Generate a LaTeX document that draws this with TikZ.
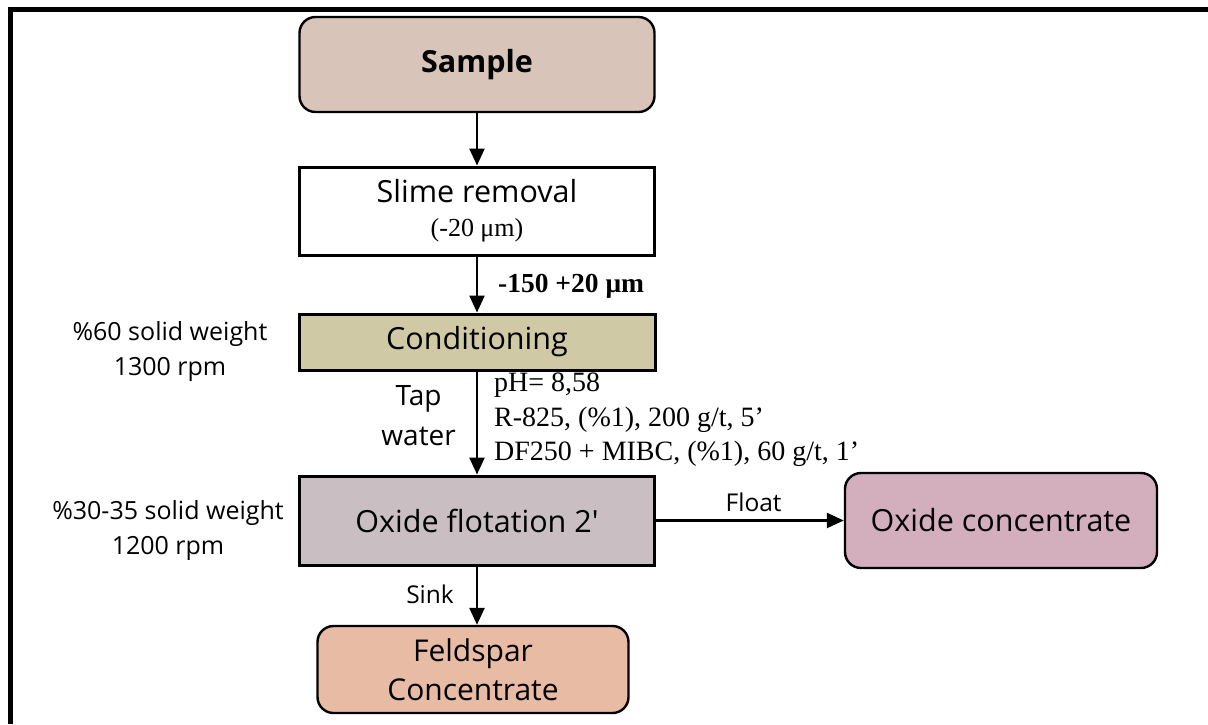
\documentclass[tikz,border=0pt]{standalone}
\usepackage{fontspec}
\setmainfont{Open Sans}
\newfontfamily\notefont{Liberation Serif}
\usetikzlibrary{arrows.meta,positioning}

\definecolor{samplefill}{HTML}{D8C4B9}
\definecolor{condfill}{HTML}{CFC9A6}
\definecolor{flotfill}{HTML}{C9BFC3}
\definecolor{concfill}{HTML}{D3AEBD}
\definecolor{feldfill}{HTML}{E8BBA5}

\begin{document}
\begin{tikzpicture}[
  x=1pt, y=-1pt,
  box/.style={rectangle, draw, line width=3pt, inner sep=0pt, align=center, font=\fontsize{30.5}{34}\selectfont},
  rbox/.style={box, rounded corners=16pt, line width=2.4pt},
  arrow/.style={-{Triangle[length=17pt,width=15pt]}, line width=2.4pt},
  side/.style={inner sep=0pt, align=center, font=\fontsize{25}{35}\selectfont},
  note/.style={inner sep=0pt, align=left, font=\notefont\fontsize{28}{34.5}\selectfont},
  tag/.style={inner sep=0pt, font=\fontsize{24.5}{28}\selectfont}
]
  \useasboundingbox (0,0) rectangle (1208,724);

  % Frame
  \draw[line width=5pt] (1208,9.5) -| (10.5,724);

  % Main column
  \node[rbox, fill=samplefill, minimum width=355pt, minimum height=95pt,
        font=\bfseries\fontsize{30.5}{34}\selectfont] (sample) at (477,64.5) {Sample};
  \node[box, fill=white, minimum width=355pt, minimum height=88pt] (slime) at (477,211)
        {Slime removal\\[0pt]{\notefont\fontsize{26}{30}\selectfont (-20 μm)}};
  \node[box, fill=condfill, minimum width=356pt, minimum height=56pt] (cond) at (477,342) {Conditioning};
  \node[box, fill=flotfill, minimum width=355pt, minimum height=89pt] (flot) at (477,520.5)
        {Oxide flotation 2\textquotesingle};

  % Products
  \node[rbox, fill=concfill, minimum width=312pt, minimum height=95pt] (conc) at (1001,520.5) {Oxide concentrate};
  \node[rbox, fill=feldfill, minimum width=311pt, minimum height=87pt,
        font=\fontsize{30}{39}\selectfont] (feld) at (473,669.5) {Feldspar\\Concentrate};

  % Operating conditions
  \node[side] (condlbl) at (170,351) {\%60 solid weight\\1300 rpm};
  \node[side] (flotlbl) at (168,530) {\%30-35 solid weight\\1200 rpm};

  % Arrows
  \draw[arrow] (sample) -- (slime);
  \draw[arrow] (slime) -- node[pos=0.53, right=20pt, note, font=\notefont\bfseries\fontsize{27.5}{30}\selectfont] (size) {-150 +20 μm} (cond);
  \draw[arrow] (cond) -- node[pos=0.43, left=20pt, side, font=\fontsize{28}{40}\selectfont] (tap) {Tap\\water}
        node[pos=0.47, right=16pt, note] (reag) {pH= 8,58\\R-825, (\%1), 200 g/t, 5’\\DF250 + MIBC, (\%1), 60 g/t, 1’} (flot);
  \draw[arrow] (flot) -- node[pos=0.52, above=8pt, tag] (float) {Float} (conc);
  \draw[arrow] (flot) -- node[pos=0.47, left=22pt, tag] (sink) {Sink} (flot |- feld.north);
\end{tikzpicture}
\end{document}
